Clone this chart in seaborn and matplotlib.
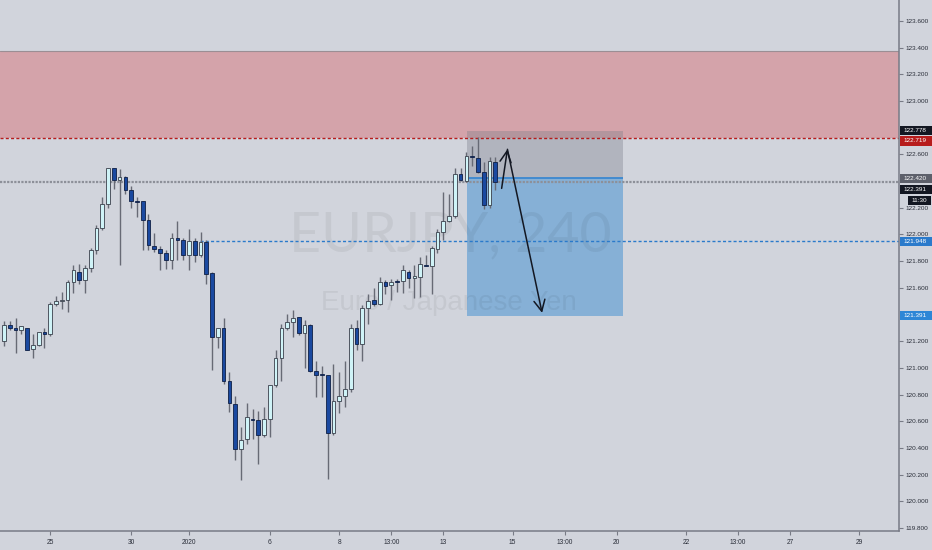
import numpy as np
import pandas as pd
import seaborn as sns
import matplotlib
matplotlib.use("Agg")
import matplotlib.pyplot as plt
from matplotlib.patches import Rectangle
from matplotlib.transforms import IdentityTransform

# ---------------- data (EURJPY, 4h candles) ----------------
open_ = [121.20, 121.32, 121.30, 121.28, 121.30, 121.14, 121.17, 121.27, 121.25, 121.48,
         121.50, 121.51, 121.645, 121.72, 121.66, 121.75, 121.88, 122.05, 122.23, 122.50,
         122.41, 122.43, 122.33, 122.25, 122.25, 122.11, 121.915, 121.89, 121.86, 121.81,
         121.97, 121.96, 121.845, 121.95, 121.845, 121.94, 121.71, 121.23, 121.30, 120.90,
         120.73, 120.39, 120.47, 120.62, 120.61, 120.50, 120.62, 120.87, 121.07, 121.30,
         121.34, 121.38, 121.26, 121.32, 120.975, 120.955, 120.95, 120.51, 120.75, 120.79,
         120.84, 121.30, 121.18, 121.45, 121.51, 121.48, 121.64, 121.62, 121.65, 121.65,
         121.72, 121.675, 121.68, 121.77, 121.76, 121.89, 122.02, 122.10, 122.14, 122.45,
         122.40, 122.585, 122.575, 122.465, 122.22, 122.545]
high = [121.35, 121.35, 121.37, 121.31, 121.30, 121.25, 121.27, 121.30, 121.49, 121.54,
        121.57, 121.66, 121.77, 121.78, 121.77, 121.90, 122.07, 122.28, 122.50, 122.50,
        122.49, 122.44, 122.36, 122.28, 122.25, 122.15, 122.01, 121.91, 121.88, 122.01,
        122.10, 121.97, 122.04, 121.97, 122.02, 121.96, 121.72, 121.30, 121.37, 120.97,
        120.79, 120.56, 120.74, 120.69, 120.68, 120.71, 120.87, 121.13, 121.33, 121.40,
        121.43, 121.38, 121.36, 121.33, 121.05, 121.01, 120.95, 121.03, 120.97, 121.05,
        121.33, 121.36, 121.47, 121.55, 121.60, 121.68, 121.66, 121.665, 121.665, 121.77,
        121.73, 121.77, 121.83, 121.845, 121.91, 122.04, 122.32, 122.30, 122.50, 122.50,
        122.62, 122.66, 122.73, 122.545, 122.58, 122.58]
low = [121.16, 121.28, 121.11, 121.25, 121.13, 121.07, 121.16, 121.15, 121.24, 121.46,
       121.44, 121.42, 121.56, 121.63, 121.56, 121.72, 121.85, 122.03, 122.20, 122.34,
       121.77, 122.30, 122.20, 122.13, 121.88, 121.88, 121.87, 121.73, 121.74, 121.74,
       121.81, 121.81, 121.73, 121.79, 121.83, 121.63, 120.98, 121.15, 120.88, 120.67,
       120.31, 120.16, 120.43, 120.47, 120.28, 120.48, 120.48, 120.86, 120.90, 121.28,
       121.23, 121.245, 121.00, 120.97, 120.78, 120.78, 120.17, 120.50, 120.66, 120.71,
       120.82, 121.13, 121.05, 121.33, 121.46, 121.47, 121.55, 121.51, 121.57, 121.56,
       121.60, 121.52, 121.53, 121.76, 121.55, 121.86, 121.96, 122.09, 122.12, 122.40,
       122.39, 122.51, 122.46, 122.19, 122.20, 122.33]
close = [121.32, 121.30, 121.28, 121.31, 121.13, 121.17, 121.27, 121.25, 121.48, 121.50,
         121.51, 121.645, 121.73, 121.66, 121.75, 121.88, 122.05, 122.23, 122.50, 122.41,
         122.43, 122.33, 122.25, 122.24, 122.11, 121.92, 121.89, 121.86, 121.81, 121.97,
         121.96, 121.845, 121.95, 121.845, 121.94, 121.70, 121.23, 121.30, 120.90, 120.74,
         120.39, 120.46, 120.63, 120.61, 120.50, 120.62, 120.87, 121.07, 121.30, 121.34,
         121.375, 121.26, 121.32, 120.975, 120.945, 120.95, 120.51, 120.75, 120.79, 120.84,
         121.30, 121.18, 121.445, 121.50, 121.475, 121.64, 121.615, 121.645, 121.645, 121.73,
         121.67, 121.69, 121.775, 121.76, 121.895, 122.02, 122.10, 122.14, 122.45, 122.41,
         122.585, 122.58, 122.47, 122.22, 122.55, 122.391]

x_tick_pos = [8, 22, 32, 46, 58, 67, 76, 88, 97, 106, 118, 127, 136, 148]
x_tick_labels = ["25", "30", "2020", "6", "8", "13:00", "13", "15", "13:00",
                 "20", "22", "13:00", "27", "29"]

y_ticks = [119.8, 120.0, 120.2, 120.4, 120.6, 120.8, 121.0, 121.2, 121.6,
           121.8, 122.0, 122.2, 122.6, 123.0, 123.2, 123.4, 123.6]

zone_low, zone_high = 122.719, 123.375          # supply zone
pos_start, pos_end = 80.05, 107.15              # position tool (bar index)
pos_stop, pos_entry, pos_target = 122.778, 122.420, 121.391
ray_start, ray_level = 33.9, 121.948            # horizontal ray
last_price = 122.391
arrow_x = [86.1, 87.1, 93.1]
arrow_y = [122.345, 122.638, 121.412]

label_values = [122.778, 122.719, 122.420, 122.391, 121.948, 121.391]
label_texts = ["122.778", "122.719", "122.420", "122.391", "121.948", "121.391"]
label_colors = ["#131722", "#b71c1c", "#5d606b", "#131722", "#2a7acb", "#2e86d6"]
label_shift_px = [0, 2.5, 0, 7.3, 0, 0]
countdown_text = "11:30"

# ---------------- style ----------------
BG = "#d1d4dc"
sns.set_theme(style="white", rc={"axes.facecolor": BG, "figure.facecolor": BG,
                                 "savefig.facecolor": BG})
plt.rcParams["font.family"] = ["Liberation Sans", "DejaVu Sans"]

fig = plt.figure(figsize=(9.32, 5.5), dpi=100)
ax = fig.add_axes([0, 19 / 550, 899 / 932, 531 / 550])
ax.set_facecolor(BG)

# supply zone
ax.axhspan(zone_low, zone_high, color="#d4a3aa", zorder=0.5, lw=0)
ax.axhline(zone_high, color="#9b8e94", lw=0.8, zorder=0.6)

# position tool
ax.add_patch(Rectangle((pos_start, pos_entry), pos_end - pos_start, pos_stop - pos_entry,
                       facecolor="#787b86", alpha=0.35, lw=0, zorder=1))
ax.add_patch(Rectangle((pos_start, pos_target), pos_end - pos_start, pos_entry - pos_target,
                       facecolor="#86b0d6", lw=0, zorder=1))
ax.hlines(pos_entry, pos_start, pos_end, color="#3b88d0", lw=1.3, zorder=2)

# watermark
ax.text(0.5006, 0.556, "EURJPY, 240", transform=ax.transAxes, ha="center", va="center",
        fontsize=40, color=(0, 0, 0, 0.055), zorder=1.5, family=["Lato", "Liberation Sans"])
ax.text(0.4995, 0.429, "Euro / Japanese Yen", transform=ax.transAxes, ha="center",
        va="center", fontsize=20, color=(0, 0, 0, 0.055), zorder=1.5)

# lines
ax.axhline(zone_low, color="#b71c1c", lw=1.0, ls=(0, (2.2, 1.6)), zorder=2.2)
ax.axhline(last_price, color="#8d9099", lw=1.6, ls=(0, (1, 0.6)), zorder=2.1)
ax.hlines(ray_level, ray_start, 200, color="#2a7acb", lw=1.0, ls=(0, (2.2, 1.6)), zorder=2.2)

# candles
df = pd.DataFrame({"o": open_, "h": high, "l": low, "c": close})
df["i"] = np.arange(len(df))
bull = df["c"] >= df["o"]
fills = np.where(bull, "#cff3f7", "#1a49a0")
edges = np.where(bull, "#3a3f4b", "#0e1f45")
ax.vlines(df["i"], df["l"], df["h"], color="#676a75", lw=1.0, zorder=4)
ax.bar(df["i"], np.maximum((df["c"] - df["o"]).abs(), 0.006),
       bottom=np.minimum(df["o"], df["c"]), width=0.64, color=fills,
       edgecolor=edges, linewidth=0.6, zorder=5)

# arrows
for k in range(len(arrow_x) - 1):
    ax.annotate("", xy=(arrow_x[k + 1], arrow_y[k + 1]), xytext=(arrow_x[k], arrow_y[k]),
                arrowprops=dict(arrowstyle="->,head_length=0.8,head_width=0.4",
                                color="#131722", lw=1.1, shrinkA=0, shrinkB=0,
                                mutation_scale=10), zorder=6)

# axes
ax.set_xlim(-0.692, 154.85)
ax.set_ylim(119.777, 123.757)
for s in ["top", "left"]:
    ax.spines[s].set_visible(False)
for s in ["right", "bottom"]:
    ax.spines[s].set_visible(True)
    ax.spines[s].set_color("#787b86")
    ax.spines[s].set_linewidth(1.1)
ax.yaxis.tick_right()
ax.set_yticks(y_ticks)
ax.set_yticklabels([f"{v:.3f}" for v in y_ticks])
ax.set_xticks(x_tick_pos)
ax.set_xticklabels(x_tick_labels)
ax.tick_params(axis="y", which="both", right=True, left=False, length=3, width=0.8,
               color="#787b86", pad=1.5, labelsize=4.6, labelcolor="#2a2e39")
ax.tick_params(axis="x", which="both", bottom=True, length=3, width=0.8,
               color="#787b86", pad=3, labelsize=4.8, labelcolor="#2a2e39")
ax.grid(False)

# price labels on the scale
fig.canvas.draw()
for v, t, c, sh in zip(label_values, label_texts, label_colors, label_shift_px):
    yd = ax.transData.transform((0, v))[1] - sh
    fig.add_artist(Rectangle((899.5, yd - 4.65), 32.5, 9.3, transform=IdentityTransform(),
                             facecolor=c, edgecolor="none", zorder=10))
    fig.text(903.5, yd, t, transform=IdentityTransform(), ha="left", va="center",
             color="white", fontsize=4.6, zorder=11)
    if t == "122.391":
        yc = yd - 11
        fig.add_artist(Rectangle((908, yc - 4.65), 23, 9.3, transform=IdentityTransform(),
                                 facecolor="#131722", edgecolor="none", zorder=10))
        fig.text(919.5, yc, countdown_text, transform=IdentityTransform(), ha="center",
                 va="center", color="white", fontsize=4.6, zorder=11)

fig.savefig("out.png", dpi=100)
